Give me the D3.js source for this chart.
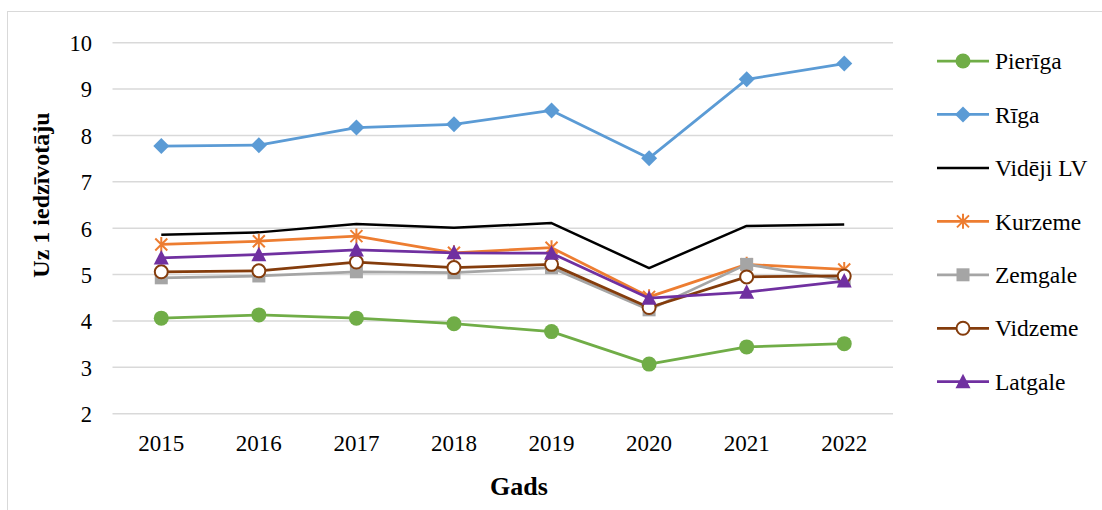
<!DOCTYPE html>
<html>
<head>
<meta charset="utf-8">
<script src="https://cdn.jsdelivr.net/npm/d3@7/dist/d3.min.js"></script>
</head>
<body style="margin:0;background:#fff">
<svg id="chart" width="1102" height="510" style="display:block"></svg>
<script>
// Years on the category axis
const years = ["2015", "2016", "2017", "2018", "2019", "2020", "2021", "2022"];
// Value axis ticks
const yTicks = [2, 3, 4, 5, 6, 7, 8, 9, 10];

// Series values, per region
const pieriga  = [4.06, 4.13, 4.06, 3.94, 3.77, 3.07, 3.44, 3.51];
const riga     = [7.77, 7.79, 8.17, 8.24, 8.54, 7.51, 9.21, 9.55];
const videjiLV = [5.86, 5.91, 6.09, 6.01, 6.11, 5.14, 6.05, 6.08];
const kurzeme  = [5.65, 5.72, 5.83, 5.47, 5.58, 4.52, 5.22, 5.11];
const zemgale  = [4.93, 4.97, 5.06, 5.04, 5.15, 4.24, 5.22, 4.88];
const vidzeme  = [5.06, 5.08, 5.27, 5.15, 5.22, 4.29, 4.95, 4.97];
const latgale  = [5.36, 5.43, 5.53, 5.47, 5.46, 4.49, 4.62, 4.86];

const series = [
  { name: "Pierīga",   values: pieriga,  color: "#70AD47", marker: "circle" },
  { name: "Rīga",      values: riga,     color: "#5B9BD5", marker: "diamond" },
  { name: "Vidēji LV", values: videjiLV, color: "#000000", marker: "none" },
  { name: "Kurzeme",   values: kurzeme,  color: "#ED7D31", marker: "star" },
  { name: "Zemgale",   values: zemgale,  color: "#A5A5A5", marker: "square" },
  { name: "Vidzeme",   values: vidzeme,  color: "#843C0C", marker: "ring" },
  { name: "Latgale",   values: latgale,  color: "#7030A0", marker: "triangle" }
];

const FONT = "'Liberation Serif', 'Times New Roman', serif";
const svg = d3.select("#chart");

// Chart area frame
svg.append("rect")
  .attr("x", 7.5).attr("y", 11.5)
  .attr("width", 1200).attr("height", 600)
  .attr("fill", "#fff").attr("stroke", "#D9D9D9").attr("stroke-width", 1);

const x = d3.scaleBand().domain(years).range([112.5, 893]).padding(0);
const y = d3.scaleLinear().domain([2, 10]).range([413.7, 42.7]);
const cx = d => x(d) + x.bandwidth() / 2;

// Horizontal gridlines
svg.append("g").selectAll("line").data(yTicks).join("line")
  .attr("x1", 112.5).attr("x2", 893)
  .attr("y1", d => y(d)).attr("y2", d => y(d))
  .attr("stroke", "#D9D9D9").attr("stroke-width", 1.5);

// Value axis labels
const yAxis = svg.append("g").attr("transform", "translate(92,0)")
  .call(d3.axisLeft(y).tickValues(yTicks).tickSize(0).tickPadding(0));
yAxis.select(".domain").remove();
yAxis.selectAll("text")
  .style("font-family", FONT).style("font-size", "22.5px")
  .attr("fill", "#000").attr("dy", "0.35em");

// Category axis labels
const xAxis = svg.append("g").attr("transform", "translate(0,442.7)")
  .call(d3.axisBottom(x).tickSize(0).tickPadding(0));
xAxis.select(".domain").remove();
xAxis.selectAll("text")
  .style("font-family", FONT).style("font-size", "23px")
  .attr("fill", "#000").attr("dy", "0.35em");

// Axis titles
svg.append("text")
  .attr("x", 519).attr("y", 486).attr("dy", "0.35em")
  .attr("text-anchor", "middle")
  .style("font-family", FONT).style("font-weight", "bold").style("font-size", "26px")
  .text("Gads");
svg.append("text")
  .attr("transform", "translate(41,195) rotate(-90)")
  .attr("dy", "0.35em")
  .attr("text-anchor", "middle")
  .style("font-family", FONT).style("font-weight", "bold").style("font-size", "24px")
  .text("Uz 1 iedzīvotāju");

// Marker drawing helper
function drawMarker(g, type, color) {
  switch (type) {
    case "circle":
      g.append("circle").attr("r", 7.5).attr("fill", color);
      break;
    case "diamond":
      g.append("path").attr("d", "M0,-8L8,0L0,8L-8,0Z").attr("fill", color);
      break;
    case "square":
      g.append("rect").attr("x", -6.5).attr("y", -6.5).attr("width", 13).attr("height", 13).attr("fill", color);
      break;
    case "ring":
      g.append("circle").attr("r", 6.5).attr("fill", "#fff").attr("stroke", color).attr("stroke-width", 2);
      break;
    case "triangle":
      g.append("path").attr("d", "M0,-8L7.5,6.5L-7.5,6.5Z").attr("fill", color);
      break;
    case "star":
      g.append("path").attr("d", "M-6,-6L6,6M-6,6L6,-6M0,-7.5L0,7.5")
        .attr("stroke", color).attr("stroke-width", 2).attr("fill", "none");
      break;
  }
}

const line = d3.line().x(d => cx(d.year)).y(d => y(d.v));

series.forEach(s => {
  const pts = years.map((yr, i) => ({ year: yr, v: s.values[i] }));
  const g = svg.append("g");
  g.append("path").datum(pts)
    .attr("d", line).attr("fill", "none")
    .attr("stroke", s.color).attr("stroke-width", s.marker === "none" ? 2.5 : 2.75)
    .attr("stroke-linejoin", "round");
  if (s.marker !== "none") {
    g.selectAll("g.m").data(pts).join("g").attr("class", "m")
      .attr("transform", d => `translate(${cx(d.year)},${y(d.v)})`)
      .each(function () { drawMarker(d3.select(this), s.marker, s.color); });
  }
});

// Legend
const legend = svg.append("g");
series.forEach((s, i) => {
  const ly = 61 + i * 53.45;
  const item = legend.append("g").attr("transform", `translate(0,${ly})`);
  item.append("line").attr("x1", 937).attr("x2", 989).attr("y1", 0).attr("y2", 0)
    .attr("stroke", s.color).attr("stroke-width", s.marker === "none" ? 2.5 : 2.75);
  const m = item.append("g").attr("transform", "translate(963,0)");
  drawMarker(m, s.marker, s.color);
  item.append("text").attr("x", 995).attr("y", 0).attr("dy", "0.35em")
    .style("font-family", FONT).style("font-size", "23.5px")
    .attr("fill", "#000").text(s.name);
});
</script>
</body>
</html>
